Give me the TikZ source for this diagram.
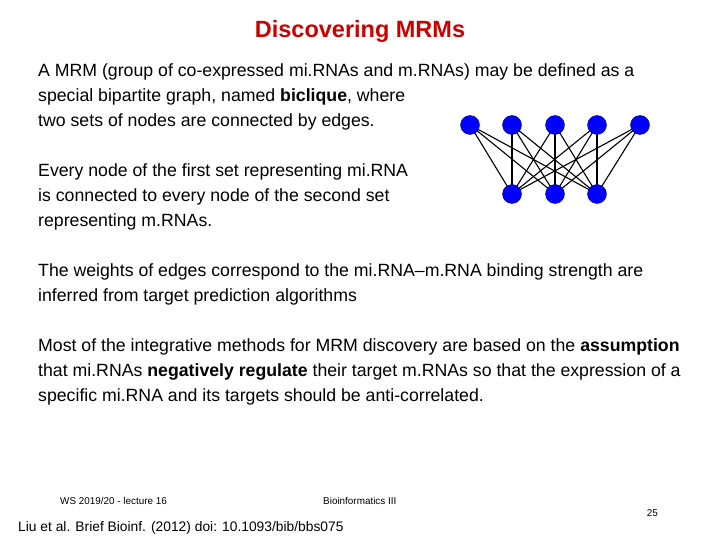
\documentclass[tikz,border=0pt]{standalone}
\usepackage{fontspec}
\setmainfont{Liberation Sans}
\begin{document}
\begin{tikzpicture}[x=1pt,y=-1pt,
  txt/.style={anchor=west,inner sep=0pt,font=\fontsize{17.7}{20}\selectfont},
  small/.style={anchor=west,inner sep=0pt,font=\fontsize{9.9}{11}\selectfont},
  dot/.style={circle,fill=blue,draw=blue!50!black,minimum size=19pt,inner sep=0pt},
  edge/.style={black,line width=1.1pt}]
\useasboundingbox[fill=white] (0,0) rectangle (720,540);
\node[inner sep=0pt,text=red!80!black,font=\fontsize{23.5}{26}\selectfont\bfseries] (title) at (360,31) {Discovering MRMs};
\node[txt] (l1) at (38,72) {A MRM (group of co-expressed mi.RNAs and m.RNAs) may be defined as a};
\node[txt] (l2) at (38,97) {special bipartite graph, named \textbf{biclique}, where};
\node[txt] (l3) at (38,122) {two sets of nodes are connected by edges.};
\node[txt] (l4) at (38,172) {Every node of the first set representing mi.RNA};
\node[txt] (l5) at (38,197) {is connected to every node of the second set};
\node[txt] (l6) at (38,222) {representing m.RNAs.};
\node[txt] (l7) at (38,272) {The weights of edges correspond to the mi.RNA--m.RNA binding strength are};
\node[txt] (l8) at (38,297) {inferred from target prediction algorithms};
\node[txt] (l9) at (38,347) {Most of the integrative methods for MRM discovery are based on the \textbf{assumption}};
\node[txt] (l10) at (38,372) {that mi.RNAs \textbf{negatively regulate} their target m.RNAs so that the expression of a};
\node[txt] (l11) at (38,397) {specific mi.RNA and its targets should be anti-correlated.};
\node[small] (f1) at (60,501) {WS 2019/20 - lecture 16};
\node[small] (f2) at (323,501) {Bioinformatics III};
\node[small,anchor=east] (f3) at (658,513) {25};
\node[txt,anchor=west,font=\fontsize{13.8}{15}\selectfont] (ref) at (18,528) {Liu et al. Brief Bioinf. (2012) doi: 10.1093/bib/bbs075};
\foreach \i/\x in {1/470,2/512,3/555,4/597,5/640} \coordinate (t\i) at (\x,125);
\foreach \j/\x in {1/512,2/555,3/597} \coordinate (b\j) at (\x,194);
\foreach \i in {1,...,5} \foreach \j in {1,2,3} \draw[edge] (t\i) -- (b\j);
\foreach \i in {1,...,5} \node[dot] (T\i) at (t\i) {};
\foreach \j in {1,2,3} \node[dot] (B\j) at (b\j) {};
\end{tikzpicture}
\end{document}
